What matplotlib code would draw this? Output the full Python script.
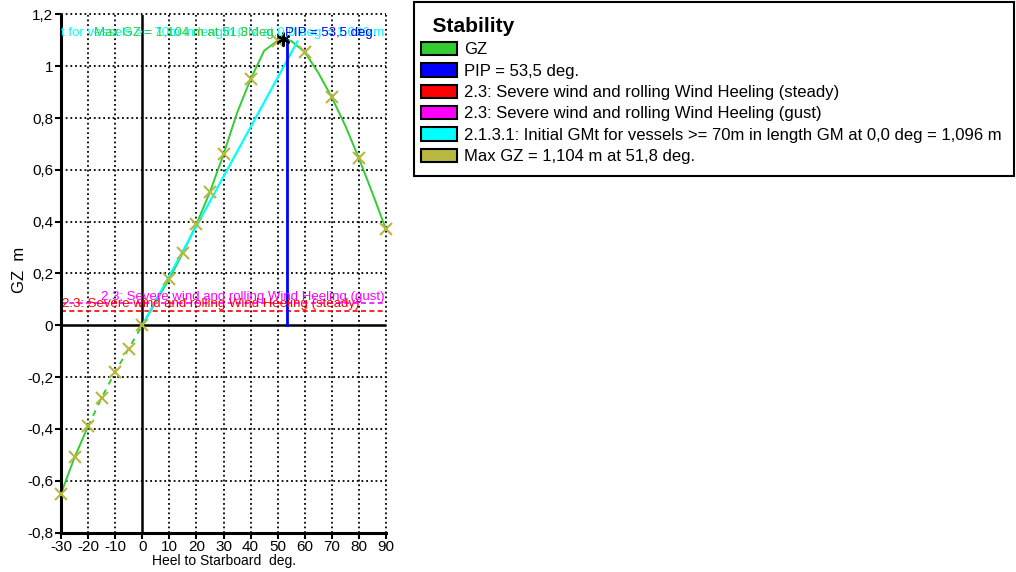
import matplotlib
matplotlib.use("Agg")
import matplotlib.pyplot as plt
from matplotlib.patches import Patch, Rectangle
from matplotlib.ticker import FuncFormatter, MultipleLocator
import numpy as np

plt.rcParams['font.family'] = ['Liberation Sans', 'DejaVu Sans']

# GZ curve (heel angle in deg, righting lever in m)
heel = [-30, -25, -20, -15, -10, -5, 0, 5, 10, 15, 20, 25, 30, 35, 40, 45, 50, 51.8,
        55, 60, 65, 70, 75, 80, 85, 90]
gz = [-0.65, -0.51, -0.39, -0.28, -0.18, -0.09, 0.0, 0.09, 0.18, 0.28, 0.39, 0.515, 0.66,
      0.82, 0.95, 1.06, 1.099, 1.104, 1.098, 1.055, 0.975, 0.88, 0.77, 0.645, 0.51, 0.37]

# Marked stations on the GZ curve
mark_heel = [-30, -25, -20, -15, -10, -5, 0, 10, 15, 20, 25, 30, 40, 50, 60, 70, 80, 90]
mark_gz = [-0.65, -0.51, -0.39, -0.28, -0.18, -0.09, 0.0, 0.18, 0.28, 0.39, 0.515, 0.66,
           0.95, 1.099, 1.055, 0.88, 0.645, 0.37]

pip_angle = 53.5
pip_gz = 1.10
max_gz_angle = 51.8
max_gz = 1.104
gm0 = 1.096
gm_rad_deg = 57.3
wind_steady = 0.056
wind_gust = 0.085

label_gz = "GZ"
label_pip = "PIP = 53,5 deg."
label_steady = "2.3: Severe wind and rolling Wind Heeling (steady)"
label_gust = "2.3: Severe wind and rolling Wind Heeling (gust)"
label_gm = "2.1.3.1: Initial GMt for vessels >= 70m in length GM at 0,0 deg = 1,096 m"
label_max = "Max GZ = 1,104 m at 51,8 deg."

c_green = "#33cc33"
c_blue = "#0000ff"
c_red = "#ff0000"
c_mag = "#ff00ff"
c_cyan = "#00ffff"
c_olive = "#b8b840"

W, H = 1016, 572
fig = plt.figure(figsize=(W / 100, H / 100), dpi=100)
ax = fig.add_axes([61/W, 1 - 532.5/H, (386 - 61)/W, (532.5 - 14.5)/H])
ax.set_xlim(-30, 90)
ax.set_ylim(-0.8, 1.2)

# Grid
dot = (0, (1, 1.6))
for xv in np.arange(-20, 91, 10):
    if xv == 0:
        continue
    ax.axvline(xv, color="black", lw=1.3, ls=dot, zorder=1, clip_on=False)
for yv in np.arange(-0.6, 1.21, 0.2):
    if abs(yv) < 1e-9:
        continue
    ax.axhline(yv, color="black", lw=1.3, ls=dot, zorder=1, clip_on=False)
ax.axhline(-0.8, color="black", lw=2.2, zorder=5, clip_on=False)
ax.axvline(-30, color="black", lw=2.2, zorder=5, clip_on=False)
ax.axhline(0, color="black", lw=1.8, zorder=2)
ax.axvline(0, color="black", lw=1.8, zorder=2)

for s in ax.spines.values():
    s.set_visible(False)

# Wind heeling levers
ax.axhline(wind_steady, color=c_red, lw=1.2, ls=(0, (3, 2)), zorder=3)
ax.axhline(wind_gust, color=c_mag, lw=1.2, ls=(0, (3, 2)), zorder=3)

# GZ curve: solid, with dashed section on the port side near upright
h = np.array(heel)
g = np.array(gz)
solid_a = h <= -20
dashed = (h >= -20) & (h <= 0)
solid_b = h >= 0
ax.plot(h[solid_a], g[solid_a], color=c_green, lw=1.4, zorder=4)
ax.plot(h[dashed], g[dashed], color=c_green, lw=1.4, ls=(0, (3, 3)), zorder=4)
ax.plot(h[solid_b], g[solid_b], color=c_green, lw=1.4, zorder=4)

# Initial GM line
ax.plot([0, gm_rad_deg], [0, gm0], color=c_cyan, lw=1.6, zorder=5)

# PIP
ax.plot([pip_angle, pip_angle], [0, pip_gz], color=c_blue, lw=2.0, zorder=5)

# Stations
ax.plot(mark_heel, mark_gz, ls="none", marker="x", ms=9, mew=1.5, color=c_olive,
        zorder=6, clip_on=False)

# Max GZ
ax.plot([max_gz_angle], [max_gz], ls="none", marker=(6, 2, 0), ms=10, mew=1.6,
        color="black", zorder=7)

# Annotations
fs = 9.5
ax.text(89.3, 1.128, label_gm, color=c_cyan, fontsize=fs, ha="right", va="center",
        zorder=8, clip_on=True)
ax.text(49.8, 1.128, label_max, color=c_green, fontsize=fs, ha="right", va="center",
        zorder=8, clip_on=True)
ax.text(52.8, 1.128, label_pip, color=c_blue, fontsize=fs, ha="left", va="center",
        zorder=8, clip_on=True)
ax.text(-29.6, wind_steady + 0.002, label_steady, color=c_red, fontsize=fs, ha="left",
        va="bottom", zorder=8, clip_on=True)
ax.text(89.5, wind_gust + 0.002, label_gust, color=c_mag, fontsize=fs, ha="right",
        va="bottom", zorder=8, clip_on=True)

# Axes ticks and labels
ax.xaxis.set_major_locator(MultipleLocator(10))
ax.yaxis.set_major_locator(MultipleLocator(0.2))


def comma(v, pos):
    v = round(v, 6)
    if abs(v) < 1e-9:
        v = 0.0
    return f"{v:g}".replace(".", ",")


ax.yaxis.set_major_formatter(FuncFormatter(comma))
ax.xaxis.set_major_formatter(FuncFormatter(comma))
ax.tick_params(direction="out", length=4, width=1.5, labelsize=11, pad=1.5, color="black")
ax.set_xlabel("Heel to Starboard  deg.", fontsize=10, labelpad=0)
ax.set_ylabel("GZ  m", fontsize=12)
ax.yaxis.set_label_coords(-0.104, 0.507)

# Legend box
fig.add_artist(Rectangle((414/W, 1 - 176/H), 600/W, 174/H, transform=fig.transFigure,
                         facecolor="white", edgecolor="black", lw=1.5, zorder=0))
handles = [
    Patch(facecolor=c_green, edgecolor="black", lw=1.5, label=label_gz),
    Patch(facecolor=c_blue, edgecolor="black", lw=1.5, label=label_pip),
    Patch(facecolor=c_red, edgecolor="black", lw=1.5, label=label_steady),
    Patch(facecolor=c_mag, edgecolor="black", lw=1.5, label=label_gust),
    Patch(facecolor=c_cyan, edgecolor="black", lw=1.5, label=label_gm),
    Patch(facecolor=c_olive, edgecolor="black", lw=1.5, label=label_max),
]
leg = fig.legend(handles=handles, loc="upper left", bbox_to_anchor=(421/W, 1 - 17/H),
                 fontsize=12, title="  Stability",
                 title_fontproperties={"weight": "bold", "size": 15},
                 alignment="left", frameon=False,
                 handlelength=2.15, handleheight=0.84, handletextpad=0.42, labelspacing=0.36,
                 borderpad=0, borderaxespad=0)

fig.savefig("out.png", dpi=100)
